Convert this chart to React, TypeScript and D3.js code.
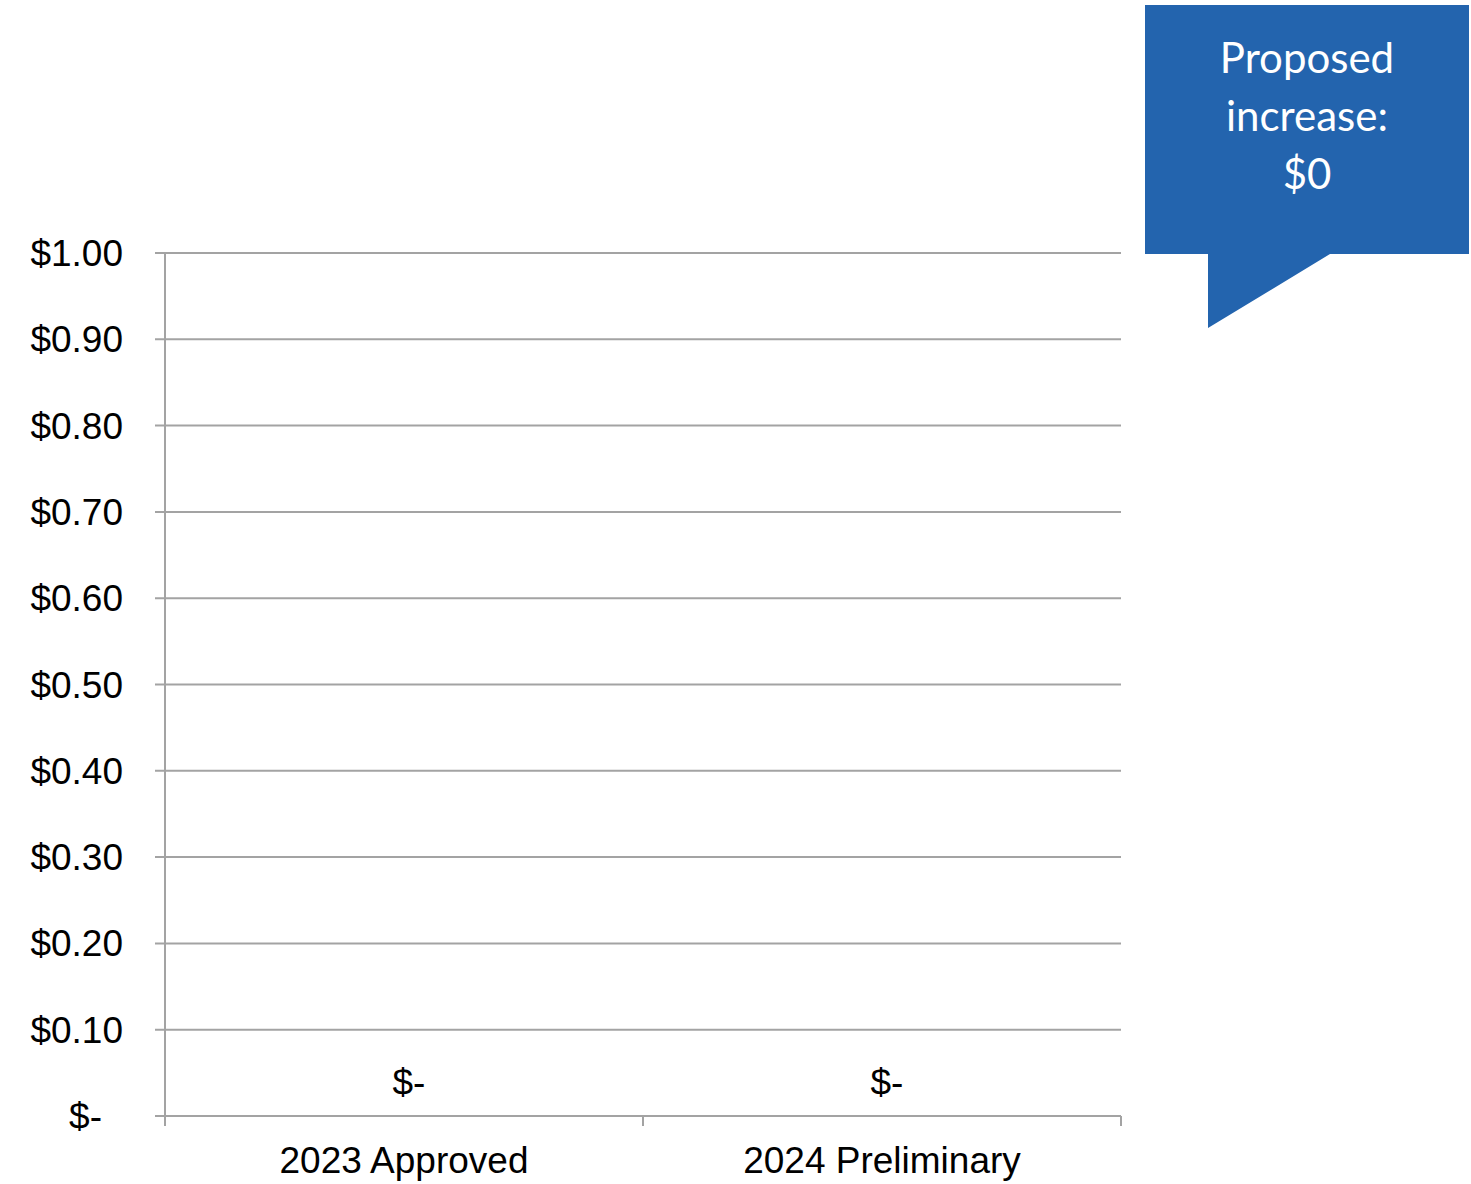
import React, { useEffect, useRef } from 'react';
import * as d3 from 'd3';

const categories = ['2023 Approved', '2024 Preliminary'];
const values = [0, 0];
const yTicks = [0, 0.1, 0.2, 0.3, 0.4, 0.5, 0.6, 0.7, 0.8, 0.9, 1.0];
const calloutLines = ['Proposed', 'increase:', '$0'];

const fmt = (v: number) => (v === 0 ? '$-' : `$${v.toFixed(2)}`);

const App: React.FC = () => {
  const svgRef = useRef<SVGSVGElement>(null);
  const width = 1471;
  const height = 1184;

  useEffect(() => {
    if (!svgRef.current) return;
    const svg = d3.select(svgRef.current);
    svg.selectAll('*').remove();

    const margin = { top: 253, right: 350, bottom: 68, left: 165 };
    const innerW = width - margin.left - margin.right;
    const innerH = height - margin.top - margin.bottom;
    const font = 'Liberation Sans, Arial, sans-serif';
    const grey = '#a3a3a3';

    const g = svg.append('g').attr('transform', `translate(${margin.left},${margin.top})`);

    const x = d3.scaleBand().domain(categories).range([0, innerW]).padding(0);
    const y = d3.scaleLinear().domain([0, 1]).range([innerH, 0]);

    // gridlines + y ticks
    yTicks.forEach(t => {
      g.append('line')
        .attr('x1', -10).attr('x2', innerW)
        .attr('y1', y(t)).attr('y2', y(t))
        .attr('stroke', grey).attr('stroke-width', 2);
      g.append('text')
        .attr('x', t === 0 ? -63 : -42)
        .attr('y', y(t) + 13)
        .attr('text-anchor', 'end')
        .attr('font-family', font)
        .attr('font-size', 37)
        .attr('fill', '#000')
        .text(fmt(t));
    });

    // y axis line
    g.append('line')
      .attr('x1', 0).attr('x2', 0)
      .attr('y1', 0).attr('y2', innerH + 10)
      .attr('stroke', grey).attr('stroke-width', 2);

    // x ticks at category boundaries
    const bounds = [0, ...categories.map(c => (x(c) ?? 0) + x.bandwidth())];
    bounds.forEach(b => {
      g.append('line')
        .attr('x1', b).attr('x2', b)
        .attr('y1', innerH).attr('y2', innerH + 10)
        .attr('stroke', grey).attr('stroke-width', 2);
    });

    // category labels
    categories.forEach(c => {
      g.append('text')
        .attr('x', (x(c) ?? 0) + x.bandwidth() / 2)
        .attr('y', innerH + 57)
        .attr('text-anchor', 'middle')
        .attr('font-family', font)
        .attr('font-size', 37)
        .attr('fill', '#000')
        .text(c);
    });

    // data labels
    categories.forEach((c, i) => {
      g.append('text')
        .attr('x', (x(c) ?? 0) + x.bandwidth() / 2 + 5)
        .attr('y', y(values[i]) - 21)
        .attr('text-anchor', 'middle')
        .attr('font-family', font)
        .attr('font-size', 37)
        .attr('fill', '#000')
        .text(fmt(values[i]));
    });

    // callout
    const blue = '#2364ae';
    svg.append('path')
      .attr('d', 'M1145,5 L1469,5 L1469,254 L1330,254 L1208,328 L1208,254 L1145,254 Z')
      .attr('fill', blue);
    calloutLines.forEach((l, i) => {
      svg.append('text')
        .attr('x', 1307)
        .attr('y', 73 + i * 58)
        .attr('text-anchor', 'middle')
        .attr('font-family', 'Lato, sans-serif')
        .attr('font-size', 42)
        .attr('fill', '#fff')
        .text(l);
    });
  }, []);

  return (
    <svg
      ref={svgRef}
      width={width}
      height={height}
      style={{ position: 'absolute', left: 0, top: 0, background: '#fff' }}
    />
  );
};

export default App;
